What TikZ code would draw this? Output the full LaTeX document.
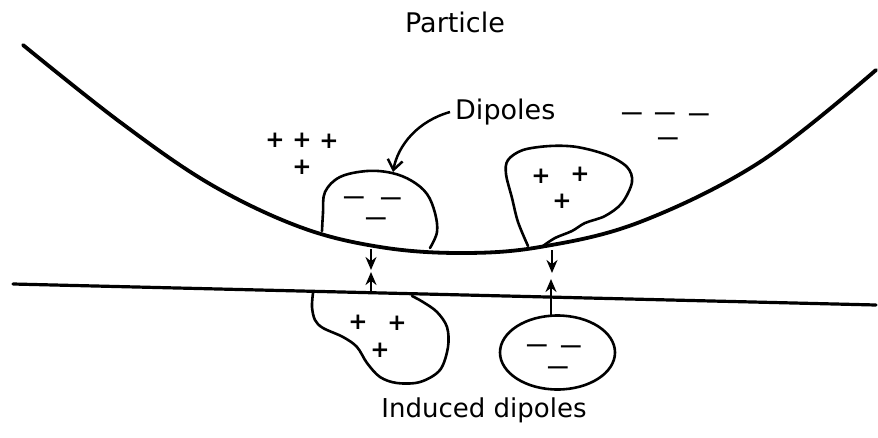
\documentclass[tikz,border=0pt]{standalone}
\usepackage{fontspec}
\setmainfont{DejaVu Sans}
\usetikzlibrary{arrows.meta}

\tikzset{
  surface/.style={line width=3.8pt, line cap=round, line join=round},
  ground/.style={line width=3.2pt, line cap=round},
  blob/.style={line width=2.6pt, line join=round, line cap=round},
  label/.style={inner sep=0pt, font=\fontsize{27}{30}\selectfont},
  plus/.style={inner sep=0pt, font=\bfseries\fontsize{23}{23}\selectfont},
  % negative charge: a long dash, placed by its baseline
  minus/.style={inner sep=0pt, anchor=base, font=\bfseries\fontsize{17}{17}\selectfont},
  force/.style={line width=2.4pt, -{Stealth[length=13pt,width=11pt]}},
  pointer/.style={line width=2.5pt, -{Straight Barb[length=10pt,width=15pt,line width=2.5pt]}}
}
\newcommand{\negsign}{\scalebox{1.3}[1]{—}}

\begin{document}
\begin{tikzpicture}[x=1pt,y=-1pt]
  \useasboundingbox (0,0) rectangle (878,437);

  % particle surface
  \draw[surface] plot[smooth, tension=0.6] coordinates
    {(23,45) (120,122) (210,184) (300,227) (380,247) (460,253)
     (540,247) (640,222) (760,162) (876,70)};

  % flat surface
  \draw[ground] (13,284) -- (876,305);

  % dipole on particle, left (negative)
  \draw[blob] plot[smooth, tension=0.6] coordinates
    {(322,231) (323,213) (325,192) (340,177) (367,171) (392,173)
     (412,181) (427,194) (435,213) (437,232) (430,248)};
  \node[minus] (am1) at (354,202) {\negsign};
  \node[minus] (am2) at (391,203) {\negsign};
  \node[minus] (am3) at (376,223) {\negsign};

  % dipole on particle, right (positive)
  \draw[blob] plot[smooth, tension=0.55] coordinates
    {(528,246) (518,222) (512,198) (506,174) (508,160) (523,150)
     (550,146) (577,147) (607,155) (627,167) (632,182) (622,203)
     (605,216) (585,223) (572,231) (555,238) (543,246)};
  \node[plus] (bp1) at (541,176) {+};
  \node[plus] (bp2) at (580,174) {+};
  \node[plus] (bp3) at (562,201) {+};

  % induced dipole, left (positive)
  \draw[blob] plot[smooth, tension=0.55] coordinates
    {(313,293) (312,307) (315,320) (323,328) (343,337) (357,347)
     (367,363) (380,377) (397,383) (420,382) (440,370) (448,347)
     (447,327) (437,312) (423,302) (412,296)};
  \node[plus] (cp1) at (358,322) {+};
  \node[plus] (cp2) at (397,323) {+};
  \node[plus] (cp3) at (380,350) {+};

  % induced dipole, right (negative)
  \draw[blob] (557.5,352.5) ellipse [x radius=57.5, y radius=37];
  \node[minus] (dm1) at (537,350) {\negsign};
  \node[minus] (dm2) at (571,351) {\negsign};
  \node[minus] (dm3) at (558,372) {\negsign};

  % bulk charges of the particle
  \node[plus] (pp1) at (275,140) {+};
  \node[plus] (pp2) at (302,140) {+};
  \node[plus] (pp3) at (329,141) {+};
  \node[plus] (pp4) at (302,167) {+};
  \node[minus] (pm1) at (632,118) {\negsign};
  \node[minus] (pm2) at (665,118) {\negsign};
  \node[minus] (pm3) at (699,119) {\negsign};
  \node[minus] (pm4) at (668,143) {\negsign};

  % attraction between dipoles and induced dipoles
  \coordinate (a1) at (371,249);
  \coordinate (a2) at (371,270);
  \coordinate (b1) at (371,292);
  \coordinate (b2) at (371,272);
  \draw[force] (a1) -- (a2);
  \draw[force] (b1) -- (b2);

  \coordinate (c1) at (552,250);
  \coordinate (c2) at (552,273);
  \coordinate (d1) at (551,316);
  \coordinate (d2) at (551,279);
  \draw[force] (c1) -- (c2);
  \draw[force] (d1) -- (d2);

  % labels
  \node[label] (particle) at (455,22) {Particle};
  \node[label, anchor=west] (dipoles) at (455,112) {Dipoles};
  \node[label, font=\fontsize{26}{30}\selectfont] (induced) at (484,410) {Induced dipoles};

  \coordinate (ptip) at (393,172);
  \draw[pointer] (dipoles.west) ++(-5,0) coordinate (pstart)
    .. controls (418,121) and (398,145) .. (ptip);
\end{tikzpicture}
\end{document}
